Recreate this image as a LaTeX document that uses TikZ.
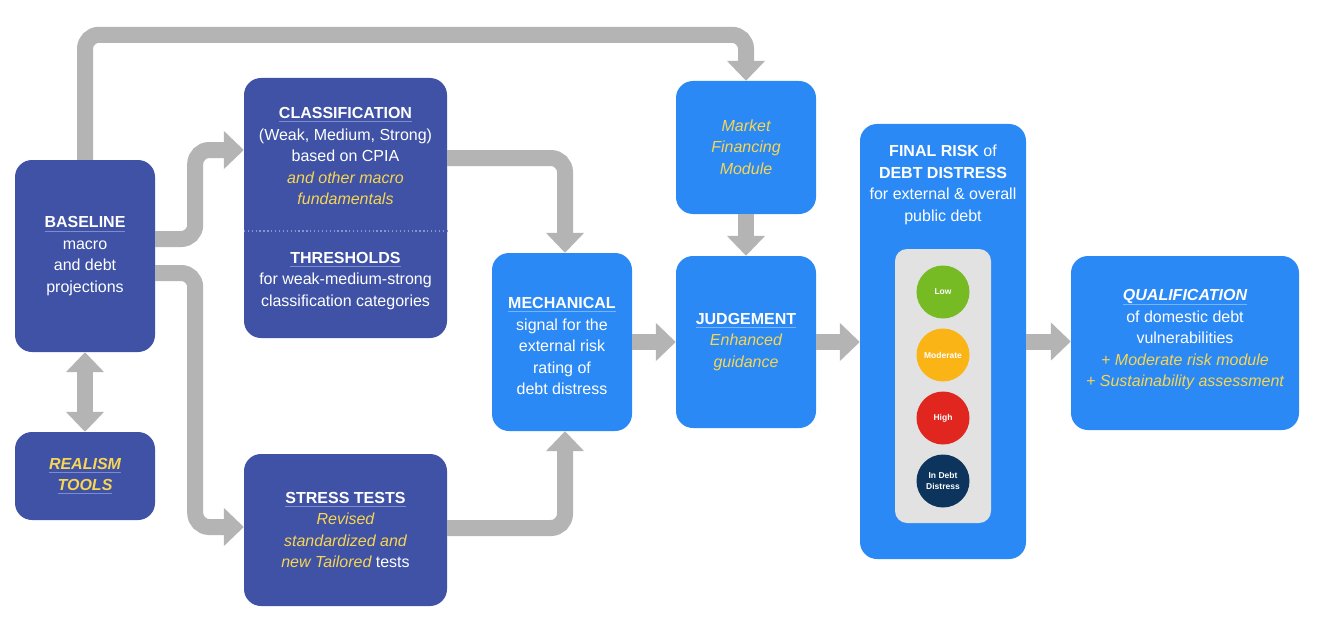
\documentclass[tikz,border=0pt]{standalone}
\usepackage{fontspec}
\setmainfont{Liberation Sans}
\usetikzlibrary{arrows.meta}
\definecolor{dkblue}{RGB}{63,82,165}
\definecolor{ltblue}{RGB}{43,137,245}
\definecolor{arrgray}{RGB}{180,180,180}
\definecolor{ylw}{RGB}{246,214,84}
\definecolor{ulone}{RGB}{125,140,205}
\definecolor{ultwo}{RGB}{120,180,250}
\definecolor{lightgrey}{RGB}{226,226,226}
\definecolor{cgreen}{RGB}{118,186,36}
\definecolor{corange}{RGB}{251,180,22}
\definecolor{cred}{RGB}{224,38,30}
\definecolor{cnavy}{RGB}{12,52,92}
\definecolor{sepc}{RGB}{130,150,215}
\newcommand\ulx[2]{\setbox0\hbox{#2}\rlap{\color{#1}\rule[-3.5pt]{\wd0}{0.6pt}}\box0}
\newcommand\yi[1]{{\color{ylw}\itshape #1}}
\newcommand\ybi[1]{{\color{ylw}\bfseries\itshape #1}}
\begin{document}
\begin{tikzpicture}[x=1pt,y=-1pt,
  box/.style={rounded corners=17pt, inner sep=0pt, draw=none},
  dk/.style={box, fill=dkblue},
  lt/.style={box, fill=ltblue},
  txt/.style={text=white, align=center, font=\fontsize{16}{21.5}\selectfont, inner sep=0pt},
  arr/.style={draw=arrgray, line width=16pt, rounded corners=14pt, -{Triangle[width=37pt,length=20pt]}},
  darr/.style={draw=arrgray, line width=16pt, {Triangle[width=37pt,length=20pt]}-{Triangle[width=37pt,length=20pt]}},
  lamp/.style={circle, minimum size=53pt, inner sep=0pt, text=white, align=center, font=\fontsize{8.5}{10.5}\selectfont\bfseries}
]
\useasboundingbox (0,0) rectangle (1340,623);
\fill[white] (0,0) rectangle (1340,623);

% boxes
\node[dk, minimum width=140pt, minimum height=192pt] (base) at (85,256) {};
\node[dk, minimum width=140pt, minimum height=88pt] (real) at (85,476) {};
\node[dk, minimum width=203pt, minimum height=260pt] (class) at (345.5,208) {};
\node[dk, minimum width=203pt, minimum height=152pt] (stress) at (345.5,530) {};
\node[lt, minimum width=140pt, minimum height=178pt] (mech) at (562,342) {};
\node[lt, minimum width=140pt, minimum height=133pt] (mkt) at (746,147.5) {};
\node[lt, minimum width=140pt, minimum height=172pt] (judg) at (746,342) {};
\node[lt, minimum width=166pt, minimum height=435pt] (final) at (943,341.5) {};
\node[lt, minimum width=228pt, minimum height=174pt] (qual) at (1185,343) {};

% texts
\node[txt] (basetxt) at (85,256) {\ulx{ulone}{\bfseries BASELINE}\\macro\\and debt\\projections};
\node[txt] (realtxt) at (85,476) {\ulx{ulone}{\ybi{REALISM}}\\\ulx{ulone}{\ybi{TOOLS}}};
\node[txt] (classtxt) at (345.5,156) {\ulx{ulone}{\bfseries CLASSIFICATION}\\(Weak, Medium, Strong)\\based on CPIA\\\yi{and other macro}\\\yi{fundamentals}};
\draw[sepc, line width=1.3pt, dash pattern=on 1.3pt off 2.6pt] ([yshift=-23pt]class.west) -- ([yshift=-23pt]class.east);
\node[txt] (thrtxt) at (345.5,281) {\ulx{ulone}{\bfseries THRESHOLDS}\\for weak-medium-strong\\classification categories};
\node[txt] (stresstxt) at (345.5,530) {\ulx{ulone}{\bfseries STRESS TESTS}\\\yi{Revised}\\\yi{standardized and}\\\yi{new Tailored} tests};
\node[txt] (mechtxt) at (562,346) {\ulx{ultwo}{\bfseries MECHANICAL}\\signal for the\\external risk\\rating of\\debt distress};
\node[txt] (mkttxt) at (746,147) {\yi{Market}\\\yi{Financing}\\\yi{Module}};
\node[txt] (judgtxt) at (746,342) {\ulx{ultwo}{\bfseries JUDGEMENT}\\\yi{Enhanced}\\\yi{guidance}};
\node[txt] (finaltxt) at (943,185) {{\bfseries FINAL RISK} of\\{\bfseries DEBT DISTRESS}\\for external \& overall\\public debt};
\node[txt] (qualtxt) at (1185,340) {\ulx{ultwo}{\bfseries\itshape QUALIFICATION}\\of domestic debt\\vulnerabilities\\\yi{+ Moderate risk module}\\\yi{+ Sustainability assessment}};

% traffic light
\node[fill=lightgrey, rounded corners=12pt, minimum width=96pt, minimum height=274pt, inner sep=0pt] (panel) at (943,386) {};
\node[lamp, fill=cgreen] (low) at (943,292) {Low};
\node[lamp, fill=corange] (mod) at (943,355) {Moderate};
\node[lamp, fill=cred] (high) at (943,418) {High};
\node[lamp, fill=cnavy] (idd) at (943,481) {In Debt\\Distress};

% connectors
\draw[arr] (base.north) -- ++(0,-125) -| (mkt.north);
\draw[arr] ([yshift=17pt]base.east) -- ++(40,0) |- ([yshift=58pt]class.west);
\draw[arr] ([yshift=-17pt]base.east) -- ++(40,0) |- ([yshift=3pt]stress.west);
\draw[arr] ([yshift=50pt]class.east) -| ([xshift=3pt]mech.north);
\draw[arr] ([yshift=2pt]stress.east) -| ([xshift=3pt]mech.south);
\draw[arr] (mech.east) -- (mech.east -| judg.west);
\draw[arr] (mkt.south) -- (judg.north);
\draw[arr] (judg.east) -- (judg.east -| final.west);
\draw[arr] (final.east) -- (final.east -| qual.west);
\draw[darr] (base.south) -- (real.north);
\end{tikzpicture}
\end{document}
